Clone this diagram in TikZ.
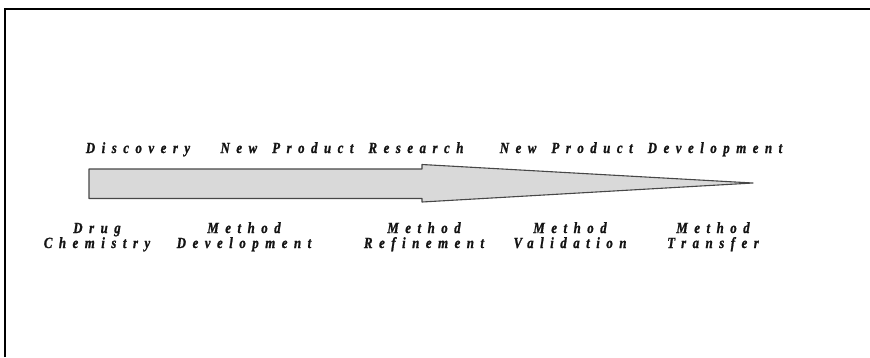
\documentclass[tikz,border=0pt]{standalone}
\usepackage{fontspec}
\setmainfont{Liberation Serif}
\newfontfamily\lblfont[UprightFont={* Bold Italic},FakeStretch=0.83,LetterSpace=42,FakeBold=1.2,WordSpace=1.55]{Liberation Serif}
\begin{document}
\begin{tikzpicture}[x=1pt,y=-1pt,
  lbl/.style={font=\lblfont\fontsize{15.5}{15}\selectfont, text=black!92, inner sep=0pt, anchor=base, align=center},
  framestyle/.style={draw=black, line width=1.8pt},
  arrowstyle/.style={draw=black!72, line width=1.1pt, fill=black!15, line join=round}]
\useasboundingbox (0,0) rectangle (870,357);
% frame (cropped at right and bottom)
\draw[framestyle] (5,357) -- (5,9) -- (870,9);
% arrow
\draw[arrowstyle] (89,169) -- (422,169) -- (422,164.5) -- (753,183) -- (422,202) -- (422,198.5) -- (89,198.5) -- cycle;
% top labels
\node[lbl] (disc) at (138,153) {Discovery};
\node[lbl] (npr) at (342,153) {New Product Research};
\node[lbl] (npd) at (641,153) {New Product Development};
% bottom labels (base anchor = last line)
\node[lbl] (drug) at (97,248) {Drug\\Chemistry};
\node[lbl] (mdev) at (244,248) {Method\\Development};
\node[lbl] (mref) at (424,248) {Method\\Refinement};
\node[lbl] (mval) at (570,248) {Method\\Validation};
\node[lbl] (mtra) at (713,248) {Method\\Transfer};
\end{tikzpicture}
\end{document}
